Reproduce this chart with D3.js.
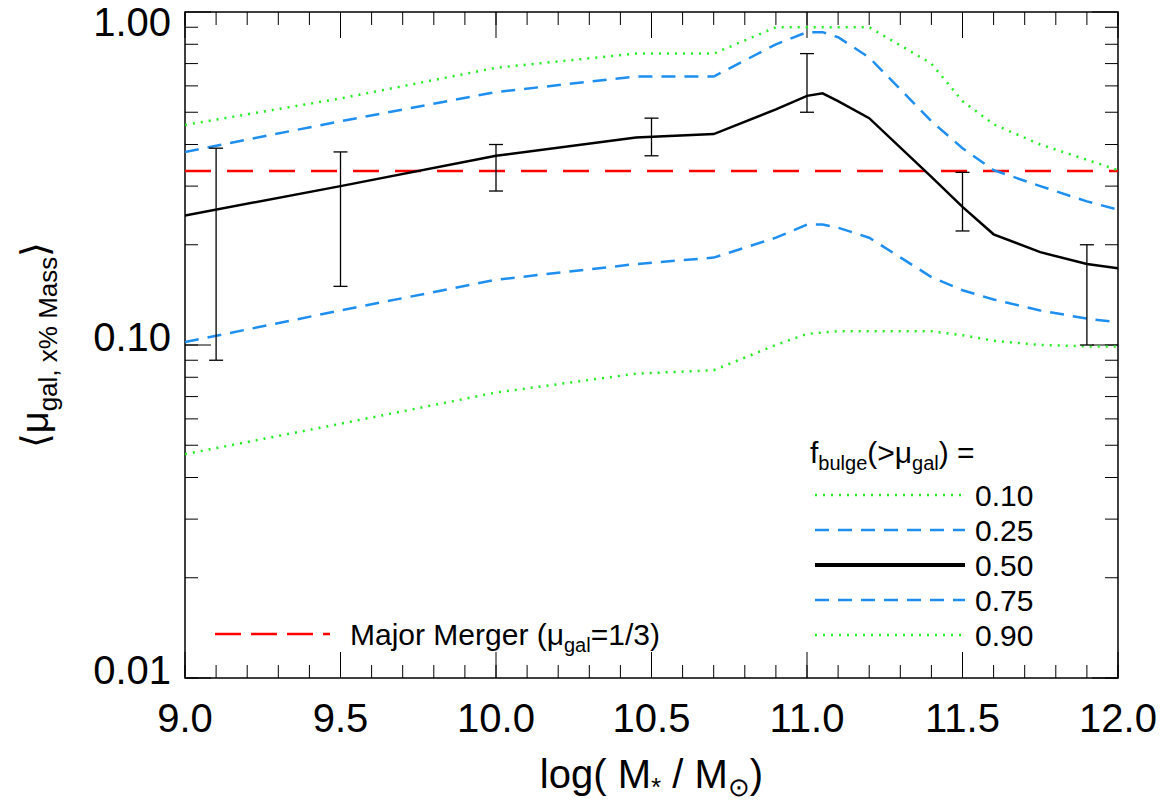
<!DOCTYPE html>
<html><head><meta charset="utf-8">
<script src="https://cdn.jsdelivr.net/npm/d3@7"></script>
<style>body{margin:0;background:#fff;font-family:"Liberation Sans",Arial,sans-serif}</style>
</head><body><div id="chart"></div>
<script>
var xs = [9.0, 9.5, 10.0, 10.45, 10.7, 10.9, 11.0, 11.05, 11.1, 11.2, 11.4, 11.5, 11.6, 11.75, 11.9, 12.0];
var f10 = [0.458, 0.55, 0.68, 0.75, 0.75, 0.90, 0.90, 0.90, 0.90, 0.90, 0.70, 0.54, 0.46, 0.40, 0.36, 0.335];
var f25 = [0.38, 0.47, 0.575, 0.64, 0.64, 0.80, 0.87, 0.87, 0.84, 0.73, 0.47, 0.39, 0.335, 0.30, 0.27, 0.255];
var f50 = [0.245, 0.30, 0.37, 0.42, 0.43, 0.51, 0.56, 0.57, 0.54, 0.48, 0.32, 0.26, 0.215, 0.19, 0.175, 0.17];
var f75 = [0.102, 0.127, 0.157, 0.175, 0.183, 0.21, 0.23, 0.23, 0.225, 0.21, 0.16, 0.146, 0.137, 0.127, 0.12, 0.117];
var f90 = [0.047, 0.058, 0.072, 0.082, 0.084, 0.10, 0.108, 0.109, 0.11, 0.11, 0.11, 0.107, 0.103, 0.10, 0.099, 0.099];
var errX = [9.1, 9.5, 10.0, 10.5, 11.0, 11.5, 11.9];
var errLo = [0.09, 0.15, 0.29, 0.37, 0.50, 0.22, 0.10];
var errHi = [0.39, 0.38, 0.40, 0.48, 0.75, 0.33, 0.20];
var xTicks = [9.0, 9.5, 10.0, 10.5, 11.0, 11.5, 12.0];
var yTicks = [0.01, 0.1, 1];
var legendLabels = ["0.10", "0.25", "0.50", "0.75", "0.90"];

var W = 1176, H = 802;
var m = {left: 185, right: 58, top: 12, bottom: 124};
var svg = d3.select("#chart").append("svg").attr("width", W).attr("height", H);
var x = d3.scaleLinear().domain([9, 12]).range([m.left, W - m.right]);
var y = d3.scaleLog().domain([0.01, 1]).range([H - m.bottom, m.top]);

var minorX = d3.range(90, 121).map(function(d) { return d / 10; });
var minorY = [];
[0.01, 0.1].forEach(function(b) { for (var i = 1; i < 10; i++) minorY.push(b * i); });

var g = svg.append("g");
var clip = svg.append("clipPath").attr("id", "c").append("rect")
  .attr("x", m.left).attr("y", m.top).attr("width", x(12) - x(9)).attr("height", y(0.01) - y(1));

// ticks on all four sides
function xt(v, len) {
  g.append("line").attr("x1", x(v)).attr("x2", x(v)).attr("y1", y(0.01)).attr("y2", y(0.01) - len).attr("stroke", "#000");
  g.append("line").attr("x1", x(v)).attr("x2", x(v)).attr("y1", y(1)).attr("y2", y(1) + len).attr("stroke", "#000");
}
function yt(v, len) {
  g.append("line").attr("y1", y(v)).attr("y2", y(v)).attr("x1", x(9)).attr("x2", x(9) + len).attr("stroke", "#000");
  g.append("line").attr("y1", y(v)).attr("y2", y(v)).attr("x1", x(12)).attr("x2", x(12) - len).attr("stroke", "#000");
}
minorX.forEach(function(v) { xt(v, 13); });
xTicks.forEach(function(v) { xt(v, 26); });
minorY.forEach(function(v) { yt(v, 13); });
yTicks.forEach(function(v) { yt(v, 26); });
g.append("rect").attr("x", x(9)).attr("y", y(1)).attr("width", x(12) - x(9)).attr("height", y(0.01) - y(1))
  .attr("fill", "none").attr("stroke", "#000").attr("stroke-width", 1.5);

xTicks.forEach(function(v) {
  g.append("text").attr("x", x(v)).attr("y", y(0.01) + 54).attr("text-anchor", "middle")
    .attr("font-size", 40).text(v.toFixed(1));
});
yTicks.forEach(function(v, i) {
  g.append("text").attr("x", x(9) - 14).attr("y", y(v) + (i == 2 ? 24 : 6)).attr("text-anchor", "end")
    .attr("font-size", 40).text(v.toFixed(2));
});

var styles = [
  {d: f10, c: "#22ee22", w: 2.5, dash: "2,6"},
  {d: f25, c: "#1e8ff0", w: 2.5, dash: "14,9"},
  {d: f50, c: "#000", w: 2.5, dash: null},
  {d: f75, c: "#1e8ff0", w: 2.5, dash: "14,9"},
  {d: f90, c: "#22ee22", w: 2.5, dash: "2,6"}
];
var line = d3.line().x(function(d, i) { return x(xs[i]); }).y(function(d) { return y(d); });
var pl = svg.append("g").attr("clip-path", "url(#c)");
pl.append("line").attr("x1", x(9)).attr("x2", x(12)).attr("y1", y(1/3)).attr("y2", y(1/3))
  .attr("stroke", "#f00").attr("stroke-width", 2.5).attr("stroke-dasharray", "26,16");
styles.forEach(function(s) {
  pl.append("path").attr("d", line(s.d)).attr("fill", "none").attr("stroke", s.c)
    .attr("stroke-width", s.w).attr("stroke-dasharray", s.dash);
});
errX.forEach(function(v, i) {
  var e = pl.append("g").attr("stroke", "#000").attr("stroke-width", 1.3);
  e.append("line").attr("x1", x(v)).attr("x2", x(v)).attr("y1", y(errLo[i])).attr("y2", y(errHi[i]));
  [errLo[i], errHi[i]].forEach(function(t) {
    e.append("line").attr("x1", x(v) - 7).attr("x2", x(v) + 7).attr("y1", y(t)).attr("y2", y(t));
  });
});

// legend
var lg = svg.append("g").attr("font-size", 30);
var t = lg.append("text").attr("x", 810).attr("y", 463);
t.append("tspan").text("f");
t.append("tspan").attr("font-size", 20).attr("dy", 7).text("bulge");
t.append("tspan").attr("dy", -7).text("(>\u03bc");
t.append("tspan").attr("font-size", 20).attr("dy", 7).text("gal");
t.append("tspan").attr("dy", -7).text(") =");
styles.forEach(function(s, i) {
  var yy = 495 + i * 35;
  lg.append("line").attr("x1", 815).attr("x2", 965).attr("y1", yy).attr("y2", yy)
    .attr("stroke", s.c).attr("stroke-width", i == 2 ? 4 : 2.5).attr("stroke-dasharray", s.dash);
  lg.append("text").attr("x", 975).attr("y", yy + 11).text(legendLabels[i]);
});
lg.append("line").attr("x1", 215).attr("x2", 330).attr("y1", 634).attr("y2", 634)
  .attr("stroke", "#f00").attr("stroke-width", 2.5).attr("stroke-dasharray", "26,10");
var mt = lg.append("text").attr("x", 350).attr("y", 645);
mt.append("tspan").text("Major Merger (\u03bc");
mt.append("tspan").attr("font-size", 20).attr("dy", 7).text("gal");
mt.append("tspan").attr("dy", -7).text("=1/3)");

// axis titles
var xl = svg.append("text").attr("x", (x(9) + x(12)) / 2).attr("y", 788).attr("text-anchor", "middle").attr("font-size", 40);
xl.append("tspan").text("log( M");
xl.append("tspan").attr("font-size", 26).attr("dy", 8).text("*");
xl.append("tspan").attr("dy", -8).text(" / M");
xl.append("tspan").attr("font-size", 26).attr("dy", 8).text("\u2299");
xl.append("tspan").attr("dy", -8).text(")");
var yl = svg.append("text").attr("transform", "translate(48," + ((y(1) + y(0.01)) / 2) + ") rotate(-90)")
  .attr("text-anchor", "middle").attr("font-size", 38);
yl.append("tspan").text("\u27e8\u03bc");
yl.append("tspan").attr("font-size", 26).attr("dy", 9).text("gal, x% Mass");
yl.append("tspan").attr("dy", -9).text("\u27e9");
</script></body></html>
